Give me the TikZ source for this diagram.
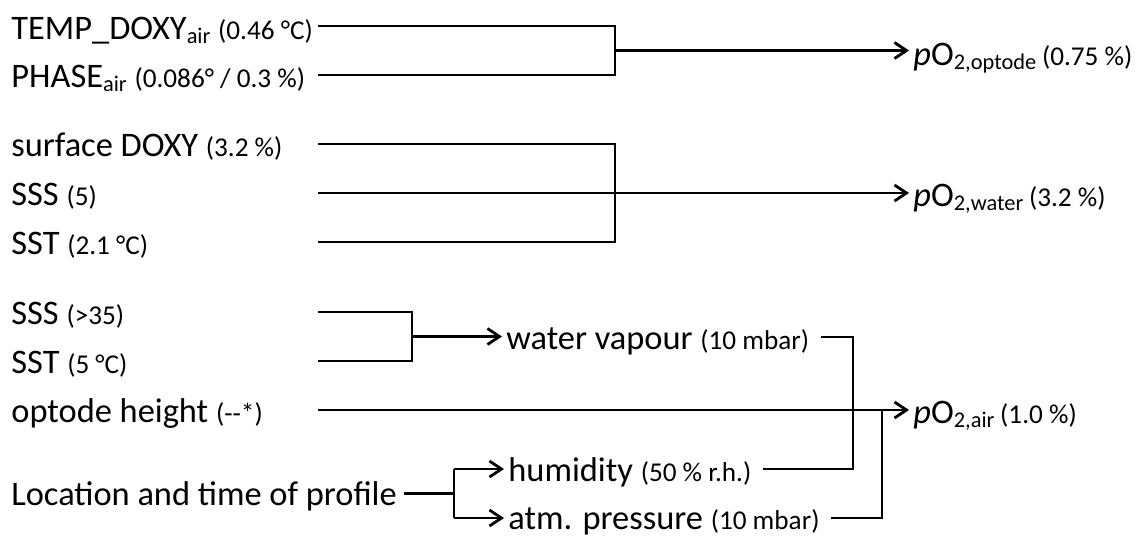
\documentclass[tikz,border=0pt]{standalone}
\usepackage{fontspec}
\setmainfont{Carlito}
\usetikzlibrary{calc,positioning,arrows.meta}

\newcommand{\sm}[1]{{\fontsize{13.6}{16}\selectfont #1}}
\newcommand{\lowtxt}[1]{\raisebox{-2pt}{\fontsize{11.2}{13}\selectfont #1}}

\begin{document}
\begin{tikzpicture}[x=0.5pt,y=-0.5pt,line width=1.4pt,inner sep=0pt,
  every node/.style={anchor=base west,font=\fontsize{17.2}{20}\selectfont},
  arr/.style={-{Straight Barb[length=6pt,width=8pt]},shorten >=1.5pt}]
\useasboundingbox (0,0) rectangle (1145,536);

% inputs
\node (tdoxy) at (10,39) {TEMP\_DOXY\lowtxt{air} \sm{(0.46 °C)}};
\node (phase) at (10,87) {PHASE\lowtxt{air} \sm{(0.086° / 0.3 \%)}};
\node (sdoxy) at (10,156) {surface DOXY \sm{(3.2 \%)}};
\node (sssa) at (10,205) {SSS \sm{(5)}};
\node (ssta) at (10,254) {SST \sm{(2.1 °C)}};
\node (sssb) at (10,324) {SSS \sm{(>35)}};
\node (sstb) at (10,373) {SST \sm{(5 °C)}};
\node (height) at (10,422) {optode height \sm{(-{}-*)}};
\node (loc) at (10,505) {Location and time of profile};

% outputs
\node (popt) at (912,65) {\textit{p}O\lowtxt{2,optode}\,\sm{(0.75 \%)}};
\node (pwat) at (912,206) {\textit{p}O\lowtxt{2,water}\,\sm{(3.2 \%)}};
\node (pair) at (912,423) {\textit{p}O\lowtxt{2,air}\,\sm{(1.0 \%)}};
\node (wv) at (505,349) {water vapour \sm{(10 mbar)}};
\node (hum) at (507,481) {humidity \sm{(50 \% r.h.)}};
\node (atm) at (507,529) {atm. pressure \sm{(10 mbar)}};

% junctions
\coordinate (a1) at (318,26);  \coordinate (a2) at (318,75);  \coordinate (k1) at (615,50.5);
\coordinate (b1) at (318,144); \coordinate (b2) at (318,193); \coordinate (b3) at (318,242);
\coordinate (k2) at (615,193);
\coordinate (c1) at (318,312); \coordinate (c2) at (318,361); \coordinate (k3) at (412,336.5);
\coordinate (d1) at (318,410);
\coordinate (k4) at (454,493.5); \coordinate (k5) at (454,469); \coordinate (k6) at (454,518);
\coordinate (m0) at (853,337); \coordinate (m1) at (853,469);
\coordinate (m2) at (882,410); \coordinate (m3) at (882,518);

\draw (a1) -| (k1) |- (a2);
\draw [arr] (k1) -- (k1 -| popt.west);

\draw (b1) -| (k2) |- (b3);
\draw [arr] (b2) -- (b2 -| pwat.west);

\draw (c1) -| (k3) |- (c2);
\draw [arr] (k3) -- (k3 -| wv.west);

\draw [arr] (d1) -- (d1 -| pair.west);

\draw ($(k4 -| loc.east)+(6,0)$) -- (k4);
\draw (k5) -- (k6);
\draw [arr] (k5) -- (k5 -| hum.west);
\draw [arr] (k6) -- (k6 -| atm.west);

\draw ($(m0 -| wv.east)+(10,0)$) -| (m1) -- ($(m1 -| hum.east)+(10,0)$);
\draw ($(m3 -| atm.east)+(10,0)$) -| (m2);
\end{tikzpicture}
\end{document}
